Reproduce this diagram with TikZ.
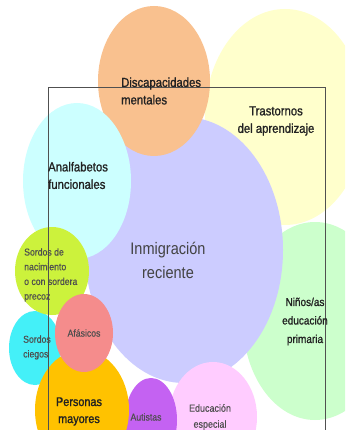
\documentclass[tikz,border=0pt]{standalone}
\usepackage{fontspec}
\setmainfont{Liberation Sans}[FakeStretch=0.87]
\newfontfamily\heavyfont{Liberation Sans}[FakeStretch=0.87, FakeBold=1.2]
\newfontfamily\semifont{Liberation Sans}[FakeStretch=0.87, FakeBold=0.4]
\definecolor{cYellow}{HTML}{FFFFCC}
\definecolor{cGreen}{HTML}{CCFFCC}
\definecolor{cLav}{HTML}{CCCCFF}
\definecolor{cOrange}{HTML}{F9C18F}
\definecolor{cCyanL}{HTML}{CCFFFF}
\definecolor{cCyan}{HTML}{44F0F8}
\definecolor{cLime}{HTML}{CCF23C}
\definecolor{cGold}{HTML}{FFC200}
\definecolor{cSalmon}{HTML}{F58C8C}
\definecolor{cPink}{HTML}{FFCCFF}
\definecolor{cPurple}{HTML}{C462F2}
\definecolor{cText}{HTML}{222222}
\definecolor{cFrame}{HTML}{505050}
\begin{document}
\begin{tikzpicture}[x=1pt,y=-1pt,
  lbl/.style={inner sep=0pt, text=cText, font=\heavyfont\fontsize{13}{17.5}\selectfont},
  big/.style={inner sep=0pt, text=cText!85, font=\fontsize{16.7}{24}\selectfont},
  mid/.style={inner sep=0pt, text=cText, font=\heavyfont\fontsize{11.5}{18.5}\selectfont},
  small/.style={inner sep=0pt, text=cText!80, font=\semifont\fontsize{10}{14.7}\selectfont}]
\clip (0,0) rectangle (345,430);
\fill[white] (0,0) rectangle (345,430);
% circles, back to front
\fill[cYellow] (285,117) ellipse [x radius=80pt, y radius=108pt];
\fill[cGreen] (315,321) ellipse [x radius=72pt, y radius=99pt];
\fill[cLav] (184,250) ellipse [x radius=99pt, y radius=133pt];
\fill[cOrange] (154,81) ellipse [x radius=56pt, y radius=75pt];
\fill[cCyanL] (77,181) ellipse [x radius=54pt, y radius=78pt];
\fill[cCyan] (35,348) ellipse [x radius=26pt, y radius=37pt];
\fill[cLime] (52,271) ellipse [x radius=37pt, y radius=44pt];
\fill[cPink] (213,417) ellipse [x radius=44pt, y radius=55pt];
\fill[cPurple] (151,420) ellipse [x radius=26pt, y radius=42pt];
\fill[cGold] (82,410) ellipse [x radius=47pt, y radius=60pt];
\fill[cSalmon] (84,333) ellipse [x radius=29pt, y radius=39pt];
% frame
\draw[cFrame, line width=1pt] (48,88) rectangle (325,445);
% labels
\node[lbl, anchor=west, align=left] (dm) at (121,91) {Discapacidades\\mentales};
\node[lbl, align=center] (ta) at (276,121) {Trastornos\\del aprendizaje};
\node[lbl, anchor=west, align=left] (af) at (48,175.5) {Analfabetos\\funcionales};
\node[big, align=center] (ir) at (168,260) {Inmigración\\reciente};
\node[small, anchor=west, align=left] (sn) at (24,275) {Sordos de\\nacimiento\\o con sordera\\precoz};
\node[small, anchor=west, align=left] (sc) at (23,347.5) {Sordos\\ciegos};
\node[small] (afa) at (84,333) {Afásicos};
\node[lbl, align=center, font=\heavyfont\fontsize{12.5}{17}\selectfont] (pm) at (79,411.5) {Personas\\mayores};
\node[small] (au) at (146,417) {Autistas};
\node[small, align=center, font=\semifont\fontsize{10.3}{16}\selectfont] (ee) at (210,417) {Educación\\especial};
\node[mid, align=center] (np) at (305,321.5) {Niños/as\\educación\\primaria};
\end{tikzpicture}
\end{document}
